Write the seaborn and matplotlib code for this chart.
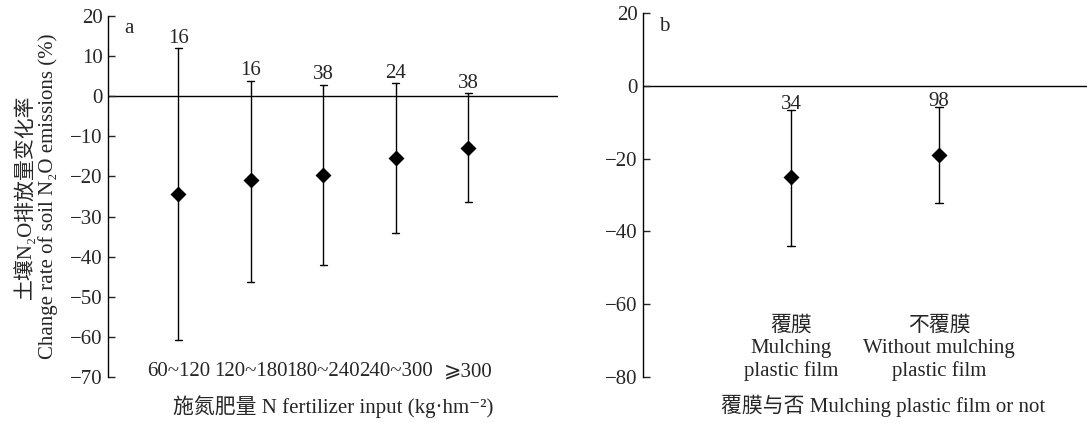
import seaborn as sns
import pandas as pd
import matplotlib
matplotlib.use('Agg')
import matplotlib.pyplot as plt

# panel a: N fertilizer input
n_groups = ['60~120', '120~180', '180~240', '240~300', '⩾300']
n_mean = [-24.5, -21.0, -19.7, -15.5, -12.9]
n_low = [-60.7, -46.4, -42.1, -34.1, -26.3]
n_high = [11.9, 3.9, 2.9, 3.2, 0.7]
n_count = [16, 16, 38, 24, 38]

# panel b: mulching plastic film
m_groups = ['覆膜\nMulching\nplastic film', '不覆膜\nWithout mulching\nplastic film']
m_mean = [-25.1, -19.1]
m_low = [-43.9, -32.3]
m_high = [-6.6, -5.7]
m_count = [34, 98]

sns.set_style('white')
plt.rcParams['font.family'] = ['Liberation Serif', 'Noto Sans CJK SC', 'DejaVu Serif', 'DejaVu Sans']
plt.rcParams['font.size'] = 15
plt.rcParams['axes.unicode_minus'] = True


def long_form(groups, low, mean, high):
    rows = []
    for g, lo, me, hi in zip(groups, low, mean, high):
        for v in (lo, me, hi):
            rows.append({'group': g, 'value': v})
    return pd.DataFrame(rows)


fig = plt.figure(figsize=(10.87, 4.23), dpi=100)
ax_a = fig.add_axes([0.0994, 0.1087, 0.4140, 0.8535])
ax_b = fig.add_axes([0.5915, 0.1094, 0.4085, 0.8592])

fs = 15
panels = [
    (ax_a, n_groups, n_low, n_mean, n_high, n_count, 0.1, (-0.97, 5.24), (-70, 20), 10, 'a',
     '施氮肥量 N fertilizer input (kg·hm⁻²)', 0.5, 4.0),
    (ax_b, m_groups, m_low, m_mean, m_high, m_count, 0.05, (-1.0, 2.0), (-80, 20), 20, 'b',
     '覆膜与否 Mulching plastic film or not', 0.54, 0.5),
]

for ax, groups, low, mean, high, count, cap, xl, yl, step, tag, xlab, xlab_x, off in panels:
    df = long_form(groups, low, mean, high)
    sns.pointplot(data=df, x='group', y='value', order=groups, estimator='median',
                  errorbar=('pi', 100), color='black', markers='D', linestyle='none',
                  markersize=6, capsize=cap, err_kws={'linewidth': 1.0}, ax=ax)
    ax.axhline(0, color='black', linewidth=1.0, zorder=0)
    for i, (hi, c) in enumerate(zip(high, count)):
        ax.annotate(str(c), (i, hi), xytext=(0, off), textcoords='offset points',
                    ha='center', va='baseline', fontsize=fs)
    ax.set_xlim(*xl)
    ax.set_ylim(*yl)
    ax.set_yticks(range(yl[0], yl[1] + 1, step))
    ax.set_xticks(range(len(groups)), groups, va='bottom', multialignment='center')
    ax.tick_params(axis='x', length=0, pad=3, labelsize=fs)
    ax.tick_params(axis='y', direction='in', length=5, width=1, pad=4, labelsize=fs,
                   left=True)
    for s in ['top', 'right', 'bottom']:
        ax.spines[s].set_visible(False)
    ax.spines['left'].set_linewidth(1.0)
    ax.spines['left'].set_color('black')
    ax.text(0.037, 0.965, tag, transform=ax.transAxes, ha='left', va='center', fontsize=fs)
    ax.set_xlabel(xlab, fontsize=fs)
    ax.xaxis.set_label_coords(xlab_x, -0.05)
    ax.xaxis.label.set_va('top')
    ax.set_ylabel('')

ax_a.set_ylabel('土壤N₂O排放量变化率\nChange rate of soil N₂O emissions (%)',
                fontsize=fs, linespacing=1.15)
ax_a.yaxis.set_label_coords(-0.112, 0.5)

fig.savefig('out.png', dpi=100)
